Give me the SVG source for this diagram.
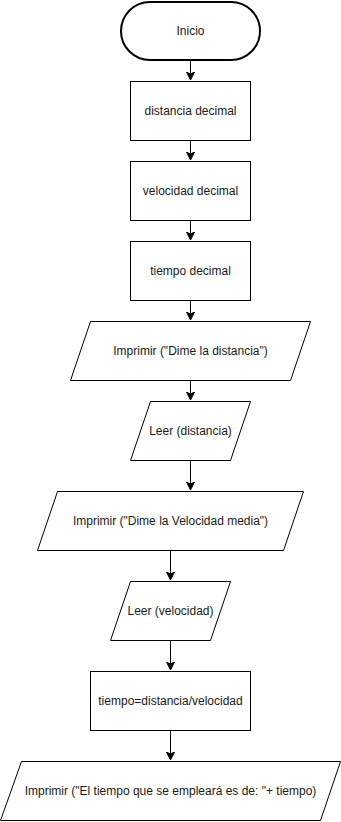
<svg xmlns="http://www.w3.org/2000/svg" width="341" height="822" viewBox="0 0 341 822">
  <style>
    .shape { fill: #ffffff; stroke: #000000; stroke-width: 1; }
    .terminal { fill: #ffffff; stroke: #000000; stroke-width: 2; }
    .edge { fill: none; stroke: #000000; stroke-width: 1; }
    .label { font-family: "Liberation Sans", Arial, Helvetica, sans-serif; font-size: 12px; fill: #1a1a1a; text-anchor: middle; }
  </style>
  <defs>
    <marker id="arrow" markerUnits="userSpaceOnUse" markerWidth="10" markerHeight="10" refX="8" refY="4" orient="auto">
      <path d="M0,0 L8,4 L0,8 L2,4 Z" fill="#000000" stroke="#000000" stroke-width="1"/>
    </marker>
  </defs>

  <rect x="0" y="0" width="341" height="822" fill="#ffffff"/>

  <!-- connectors -->
  <g id="connectors">
    <path class="edge" marker-end="url(#arrow)" d="M190.5,61 L190.5,80"/>
    <path class="edge" marker-end="url(#arrow)" d="M190.5,141 L190.5,160"/>
    <path class="edge" marker-end="url(#arrow)" d="M190.5,221 L190.5,240"/>
    <path class="edge" marker-end="url(#arrow)" d="M190.5,301 L190.5,320"/>
    <path class="edge" marker-end="url(#arrow)" d="M190.5,381 L190.5,400"/>
    <path class="edge" marker-end="url(#arrow)" d="M190.5,461 L190.5,490"/>
    <path class="edge" marker-end="url(#arrow)" d="M170.5,551 L170.5,580"/>
    <path class="edge" marker-end="url(#arrow)" d="M170.5,641 L170.5,670"/>
    <path class="edge" marker-end="url(#arrow)" d="M170.5,731 L170.5,760"/>
  </g>

  <!-- nodes -->
  <g id="inicio">
    <rect class="terminal" x="121" y="2" width="139" height="58" rx="29" ry="29"/>
    <text class="label" x="190.5" y="35">Inicio</text>
  </g>
  <g id="distancia-decimal">
    <rect class="shape" x="130.5" y="81.5" width="120" height="59"/>
    <text class="label" x="190.5" y="115">distancia decimal</text>
  </g>
  <g id="velocidad-decimal">
    <rect class="shape" x="130.5" y="161.5" width="120" height="59"/>
    <text class="label" x="190.5" y="195">velocidad decimal</text>
  </g>
  <g id="tiempo-decimal">
    <rect class="shape" x="130.5" y="241.5" width="120" height="59"/>
    <text class="label" x="190.5" y="275">tiempo decimal</text>
  </g>
  <g id="imprimir-distancia">
    <polygon class="shape" points="90.5,321.5 310.5,321.5 290.5,380.5 70.5,380.5"/>
    <text class="label" x="190.5" y="355">Imprimir ("Dime la distancia")</text>
  </g>
  <g id="leer-distancia">
    <polygon class="shape" points="150.5,401.5 250.5,401.5 230.5,460.5 130.5,460.5"/>
    <text class="label" x="190.5" y="435">Leer (distancia)</text>
  </g>
  <g id="imprimir-velocidad">
    <polygon class="shape" points="57.5,491.5 303.5,491.5 283.5,550.5 37.5,550.5"/>
    <text class="label" x="170.5" y="525">Imprimir ("Dime la Velocidad media")</text>
  </g>
  <g id="leer-velocidad">
    <polygon class="shape" points="130.5,581.5 230.5,581.5 210.5,640.5 110.5,640.5"/>
    <text class="label" x="170.5" y="615">Leer (velocidad)</text>
  </g>
  <g id="calculo-tiempo">
    <rect class="shape" x="90.5" y="671.5" width="160" height="59"/>
    <text class="label" x="170.5" y="705">tiempo=distancia/velocidad</text>
  </g>
  <g id="imprimir-tiempo">
    <polygon class="shape" points="21.5,761.5 340.5,761.5 320.5,820.5 0.5,820.5"/>
    <text class="label" x="170.5" y="795">Imprimir ("El tiempo que se empleará es de: "+ tiempo)</text>
  </g>
</svg>
